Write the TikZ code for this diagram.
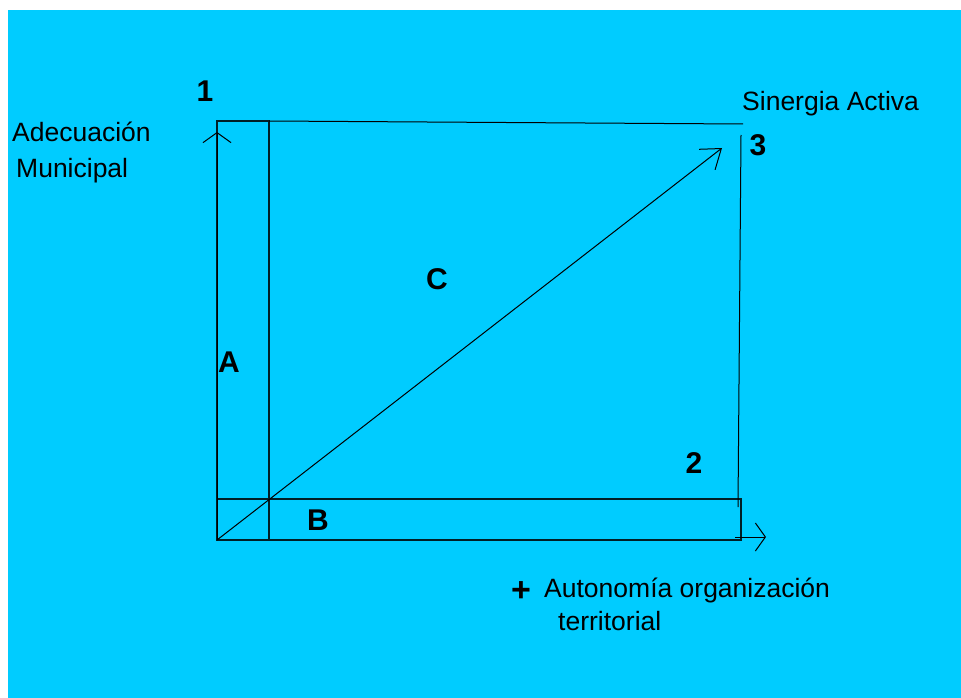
\documentclass[tikz,border=0pt]{standalone}
\usepackage{fontspec}
\setmainfont{Liberation Sans}
\usetikzlibrary{arrows.meta}
\definecolor{bg}{HTML}{00CCFF}
\begin{document}
\begin{tikzpicture}[x=1pt,y=-1pt,
  lbl/.style={anchor=base west, inner sep=0pt, font=\fontsize{26.5}{30}\selectfont},
  num/.style={anchor=base, inner sep=0pt, font=\fontsize{30}{34}\selectfont\bfseries},
  ln/.style={line width=1pt, black},
  boxln/.style={line width=1.3pt, black!85!bg},
  barb/.style={-{Straight Barb[length=10pt,width=28pt]}}]
\useasboundingbox (0,0) rectangle (961,698);
\fill[white] (0,0) rectangle (961,698);
\fill[bg] (8,10) rectangle (961,698);
% coordinates
\coordinate (O) at (217,540);
\coordinate (Atr) at (269,121);
\coordinate (Bbr) at (741,540);
\coordinate (Btl) at (217,499);
\coordinate (Ytip) at (217,132);
\coordinate (Xs) at (735,537);
\coordinate (Xtip) at (766,537);
\coordinate (Ctip) at (722,148);
\coordinate (Tl) at (269,121);
\coordinate (Tr) at (743,124);
\coordinate (Rt) at (741,135);
\coordinate (Rb) at (738,507);
% boxes
\draw[boxln] (O) rectangle (Atr);
\draw[boxln] (Btl) rectangle (Bbr);
% top and right lines
\draw[ln] (Tl) -- (Tr);
\draw[ln] (Rt) -- (Rb);
% axes
\draw[ln,barb] (O) -- (Ytip);
\draw[ln,barb] (Xs) -- (Xtip);
\draw[ln,-{Straight Barb[length=18pt,width=26pt]}] (O) -- (Ctip);
% labels
\node[num] (n1) at (205,102) {1};
\node[num] (n3) at (758,155) {3};
\node[num] (nC) at (437,289) {C};
\node[num] (nA) at (229,372) {A};
\node[num] (n2) at (694,473) {2};
\node[num] (nB) at (318,530) {B};
\node[lbl] (adec) at (12,142) {Adecuación};
\node[lbl] (muni) at (16,177) {Municipal};
\node[lbl] (sin) at (742,111) {Sinergia Activa};
\node[inner sep=0pt, font=\fontsize{34}{36}\selectfont\bfseries] (plus) at (521,592) {+};
\node[lbl] (auto) at (544,597) {Autonomía organización};
\node[lbl] (terr) at (558,630) {territorial};
\end{tikzpicture}
\end{document}
